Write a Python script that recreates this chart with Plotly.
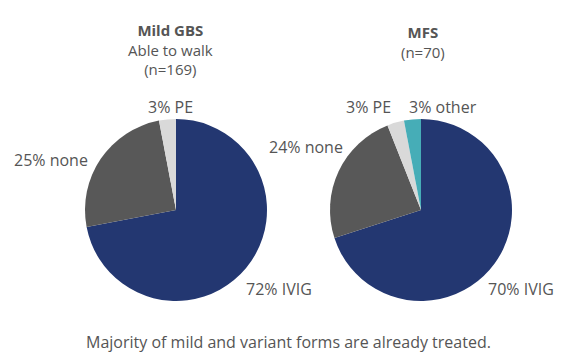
import plotly.graph_objects as go

# Data
gbs_categories = ["IVIG", "none", "PE"]
gbs_values = [72, 25, 3]
mfs_categories = ["IVIG", "none", "PE", "other"]
mfs_values = [70, 24, 3, 3]

colors = {"IVIG": "#233771", "none": "#585858", "PE": "#d9d9d9", "other": "#46adb7"}
text_color = "#555555"
font_family = "'Open Sans', sans-serif"
FS = 16

W, H = 579, 364

def px_domain(cx, cy, r):
    return dict(x=[(cx - r) / W, (cx + r) / W], y=[(H - cy - r) / H, (H - cy + r) / H])

fig = go.Figure()
fig.add_trace(go.Pie(
    labels=gbs_categories, values=gbs_values, sort=False, direction="clockwise", rotation=0,
    marker=dict(colors=[colors[c] for c in gbs_categories], line=dict(width=0)),
    textinfo="none", hoverinfo="label+percent", showlegend=False,
    domain=px_domain(176, 210, 91),
))
fig.add_trace(go.Pie(
    labels=mfs_categories, values=mfs_values, sort=False, direction="clockwise", rotation=0,
    marker=dict(colors=[colors[c] for c in mfs_categories], line=dict(width=0)),
    textinfo="none", hoverinfo="label+percent", showlegend=False,
    domain=px_domain(421, 210, 91),
))

annotations = []
def add_text(x, y, text, size=FS):
    annotations.append(dict(
        x=x / W, y=1 - y / H, xref="paper", yref="paper", text=text,
        showarrow=False, xanchor="center", yanchor="middle", align="center",
        font=dict(size=size, color=text_color, family=font_family),
    ))

# Titles (one multi-line text each)
add_text(170, 50, "<b>Mild GBS</b><br>Able to walk<br>(n=169)", size=15)
add_text(423, 42, "<b>MFS</b><br>(n=70)", size=15)

# Slice labels
gbs_label_pos = {"IVIG": (279, 289), "none": (51, 160), "PE": (170, 107)}
mfs_label_pos = {"IVIG": (521, 289), "none": (306, 147), "PE": (368, 107), "other": (443, 107)}
for c, v in zip(gbs_categories, gbs_values):
    add_text(*gbs_label_pos[c], "%d%% %s" % (v, c))
for c, v in zip(mfs_categories, mfs_values):
    add_text(*mfs_label_pos[c], "%d%% %s" % (v, c))

# Caption
add_text(288, 342, "Majority of mild and variant forms are already treated.")

fig.update_layout(
    width=W, height=H, margin=dict(l=0, r=0, t=0, b=0),
    paper_bgcolor="white", plot_bgcolor="white",
    annotations=annotations,
)
fig.write_html("out.html", config={"displayModeBar": False},
               post_script="document.body.style.margin='0';")
